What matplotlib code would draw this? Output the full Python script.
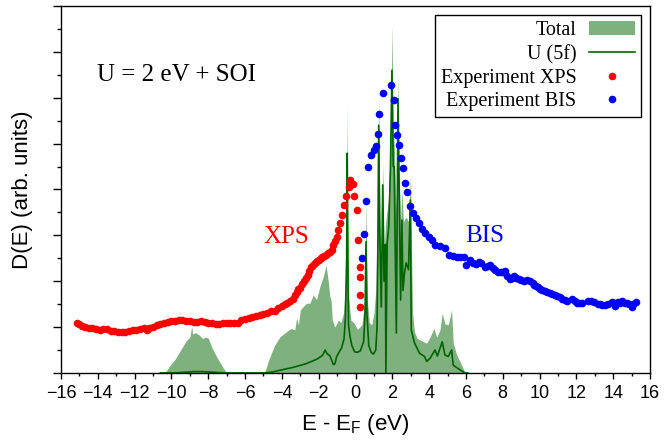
import matplotlib
matplotlib.use("Agg")
import matplotlib.pyplot as plt
from matplotlib.patches import Patch
from matplotlib.lines import Line2D
from matplotlib.ticker import MultipleLocator

# Total density of states (energy in eV, arb. units)
E_tot = [-10.6, -10.35, -10.1, -9.8, -9.5, -9.2, -9.0, -8.9, -8.85, -8.7, -8.5, -8.3, -8.15,
         -8.0, -7.8, -7.5, -7.2, -7.0, -4.95, -4.7, -4.4, -4.1, -3.75, -3.5, -3.3, -3.2, -3.1,
         -3.0, -2.84, -2.66, -2.48, -2.3, -2.12, -1.93, -1.75, -1.6, -1.48, -1.39, -1.33, -1.26,
         -1.12, -0.93, -0.8, -0.65, -0.55, -0.48, -0.45, -0.42, -0.36, -0.25, -0.1, 0.11, 0.35,
         0.5, 0.57, 0.64, 0.75, 0.88, 1.0, 1.1, 1.2, 1.26, 1.32, 1.4, 1.48, 1.55, 1.62, 1.7,
         1.8, 1.92, 1.98, 2.04, 2.12, 2.2, 2.27, 2.31, 2.36, 2.45, 2.52, 2.6, 2.75, 2.88, 2.95,
         2.99, 3.03, 3.1, 3.2, 3.35, 3.51, 3.7, 3.87, 4.05, 4.26, 4.41, 4.59, 4.71, 4.86, 5.04,
         5.22, 5.31, 5.49, 5.76, 5.95, 6.1]
D_tot = [0.0, 0.0, 0.15, 0.3, 0.5, 0.7, 0.78, 1.02, 0.85, 0.88, 0.83, 0.75, 0.78,
         0.76, 0.55, 0.32, 0.12, 0.0, 0.0, 0.3, 0.6, 0.79, 0.9, 0.97, 0.94, 1.2, 1.05,
         1.37, 1.45, 1.52, 1.52, 1.7, 1.6, 1.89, 2.1, 2.35, 2.0, 1.66, 1.6, 1.15,
         1.0, 1.15, 1.1, 1.3, 2.0, 3.6, 5.8, 3.6, 1.6, 1.15, 1.1, 0.95, 1.05,
         1.6, 3.7, 1.6, 1.1, 1.05, 1.3, 1.8, 3.5, 6.0, 3.5, 2.2, 4.6, 2.6, 3.2, 3.5,
         3.8, 5.5, 7.6, 5.5, 4.8, 3.5, 4.5, 6.6, 4.5, 3.3, 4.0, 3.3, 3.4, 3.3, 4.0,
         4.3, 3.0, 1.3, 0.9, 0.75, 0.72, 0.68, 0.65, 0.78, 0.97, 0.78, 0.94, 1.30, 1.07, 1.05,
         1.37, 0.65, 0.4, 0.18, 0.0, 0.0]

# U 5f partial density of states
E_5f = [-10.6, -10.0, -9.5, -8.8, -8.3, -7.5, -7.0, -5.0, -4.5, -4.1, -3.4, -2.7, -2.1,
        -1.8, -1.65, -1.55, -1.4, -1.3, -1.2, -1.12, -1.03, -0.9, -0.75, -0.62, -0.55, -0.48,
        -0.45, -0.42, -0.38, -0.3, -0.2, -0.05, 0.1, 0.26, 0.44, 0.52, 0.57, 0.62, 0.72, 0.85,
        0.97, 1.1, 1.17, 1.22, 1.26, 1.32, 1.4, 1.48, 1.55, 1.62, 1.65, 1.72, 1.81, 1.9, 1.98,
        2.05, 2.1, 2.22, 2.31, 2.45, 2.52, 2.58, 2.66, 2.75, 2.88, 2.98, 3.03, 3.21, 3.48, 3.75,
        3.87, 4.05, 4.32, 4.45, 4.71, 4.86, 5.04, 5.22, 5.31, 5.67, 5.95, 6.1]
D_5f = [0.0, 0.0, 0.01, 0.03, 0.03, 0.01, 0.0, 0.0, 0.02, 0.06, 0.12, 0.2, 0.3,
        0.38, 0.5, 0.42, 0.38, 0.28, 0.18, 0.2, 0.35, 0.45, 0.55, 0.75, 1.2, 2.5,
        4.79, 2.5, 1.05, 0.8, 0.6, 0.46, 0.45, 0.48, 0.68, 1.3, 2.86, 1.3, 0.6, 0.45,
        0.41, 0.5, 1.0, 3.0, 5.4, 3.0, 1.44, 4.1, 2.0, 2.8, 0.0, 2.83, 3.2, 4.5, 6.6,
        4.5, 4.5, 0.87, 5.98, 1.59, 3.33, 1.8, 2.18, 2.4, 2.25, 3.77, 0.94, 0.65, 0.43, 0.36,
        0.25, 0.32, 0.5, 0.37, 0.68, 0.39, 0.36, 0.5, 0.17, 0.07, 0.0, 0.0]

# XPS spectrum (occupied states)
E_xps = [-15.15, -15.0, -14.85, -14.7, -14.5, -14.3, -14.1, -13.9, -13.7, -13.5, -13.3,
         -13.1, -12.9, -12.7, -12.5, -12.3, -12.1, -11.9, -11.7, -11.5, -11.35, -11.2, -11.0,
         -10.8, -10.6, -10.4, -10.2, -10.0, -9.8, -9.6, -9.4, -9.2, -9.0, -8.8, -8.6, -8.4,
         -8.2, -8.0, -7.8, -7.6, -7.4, -7.2, -7.0, -6.8, -6.6, -6.4, -6.2, -6.0, -5.8, -5.6,
         -5.4, -5.2, -5.0, -4.8, -4.6, -4.4, -4.2, -4.0, -3.85, -3.7, -3.55, -3.4, -3.3, -3.2,
         -3.1, -3.0, -2.9, -2.8, -2.7, -2.6, -2.5, -2.4, -2.3, -2.2, -2.1, -2.0, -1.9, -1.8,
         -1.7, -1.6, -1.5, -1.4, -1.3, -1.2, -1.1, -1.02, -0.93, -0.83, -0.74, -0.65, -0.51,
         -0.38, -0.29, -0.15, -0.07, 0.07, 0.16, 0.22, 0.22, 0.27, 0.25]
D_xps = [1.10, 1.07, 1.02, 1.00, 0.99, 0.99, 0.96, 0.93, 0.95, 0.95, 0.92,
         0.91, 0.90, 0.90, 0.90, 0.91, 0.93, 0.93, 0.95, 0.97, 0.93, 0.98, 1.01,
         1.05, 1.07, 1.09, 1.11, 1.13, 1.14, 1.16, 1.16, 1.14, 1.13, 1.12, 1.11, 1.13,
         1.11, 1.10, 1.08, 1.07, 1.06, 1.08, 1.08, 1.09, 1.08, 1.10, 1.15, 1.18, 1.20, 1.22,
         1.25, 1.27, 1.28, 1.31, 1.35, 1.34, 1.42, 1.46, 1.50, 1.53, 1.56, 1.62, 1.70, 1.76,
         1.82, 1.86, 1.93, 2.00, 2.08, 2.14, 2.22, 2.30, 2.36, 2.40, 2.43, 2.46, 2.50, 2.52,
         2.55, 2.57, 2.62, 2.64, 2.68, 2.78, 2.88, 2.97, 3.12, 3.26, 3.45, 3.66, 3.86,
         4.06, 4.20, 4.13, 3.86, 3.55, 2.90, 2.32, 2.10, 1.71, 1.43]

# BIS spectrum (unoccupied states)
E_bis = [0.34, 0.47, 0.58, 0.70, 0.83, 0.98, 1.10, 1.21, 1.28, 1.52, 1.92, 2.11, 2.17,
         2.26, 2.35, 2.46, 2.57, 2.71, 2.79, 2.97, 3.11, 3.29, 3.47, 3.62, 3.80, 3.98, 4.14,
         4.34, 4.60, 4.88, 5.10, 5.30, 5.52, 5.70, 5.88, 6.01, 6.21, 6.40, 6.55, 6.70, 6.84,
         7.06, 7.20, 7.33, 7.47, 7.60, 7.75, 7.88, 8.00, 8.11, 8.23, 8.37, 8.48, 8.60, 8.74,
         8.88, 9.01, 9.14, 9.30, 9.50, 9.62, 9.69, 9.80, 9.92, 10.03, 10.14, 10.28, 10.41,
         10.55, 10.68, 10.82, 10.96, 11.10, 11.23, 11.37, 11.50, 11.74, 11.90, 12.04, 12.16,
         12.28, 12.64, 12.80, 12.95, 13.18, 13.29, 13.40, 13.55, 13.73, 13.95, 14.02, 14.09,
         14.18, 14.27, 14.38, 14.49, 14.62, 14.76, 14.88, 15.03, 15.10, 15.25]
D_bis = [2.50, 3.03, 3.75, 4.50, 4.75, 4.86, 4.95, 5.20, 5.64, 6.11, 6.27, 5.95, 5.40,
         5.19, 4.98, 4.69, 4.47, 4.15, 3.94, 3.64, 3.49, 3.37, 3.26, 3.14, 3.05, 2.96, 2.90,
         2.78, 2.76, 2.73, 2.58, 2.55, 2.53, 2.52, 2.53, 2.35, 2.46, 2.40, 2.38, 2.41, 2.40,
         2.31, 2.33, 2.36, 2.28, 2.24, 2.21, 2.20, 2.21, 2.22, 2.12, 2.04, 2.08, 2.11, 2.07,
         2.04, 2.02, 2.00, 2.02, 2.00, 1.96, 1.91, 1.89, 1.87, 1.84, 1.80, 1.78, 1.76,
         1.74, 1.73, 1.71, 1.68, 1.65, 1.62, 1.59, 1.57, 1.61, 1.56, 1.53, 1.52,
         1.53, 1.57, 1.56, 1.55, 1.51, 1.50, 1.49, 1.49, 1.50, 1.55, 1.52, 1.47,
         1.52, 1.55, 1.53, 1.56, 1.53, 1.52, 1.50, 1.44, 1.50, 1.55]

plt.rcParams["mathtext.fontset"] = "custom"
plt.rcParams["mathtext.rm"] = "Liberation Sans"
sans = "Liberation Sans"
serif = "Liberation Serif"

fig = plt.figure(figsize=(6.64, 4.44), dpi=100)
ax = fig.add_axes([0.0919, 0.16, 0.887, 0.8265])

ax.fill_between(E_tot, 0, D_tot, color="darkgreen", alpha=0.5, lw=0, zorder=1)
ax.plot(E_5f, D_5f, color="darkgreen", lw=1.2, zorder=2)
ax.plot(E_xps, D_xps, "o", color="red", ms=5.5, mec="none", zorder=3)
ax.plot(E_bis, D_bis, "o", color="blue", ms=5.5, mec="none", zorder=3)

ax.set_xlim(-16, 16)
ax.set_ylim(0, 8)
ax.xaxis.set_major_locator(MultipleLocator(2))
ax.xaxis.set_minor_locator(MultipleLocator(1))
ax.yaxis.set_major_locator(MultipleLocator(1))
ax.yaxis.set_minor_locator(MultipleLocator(0.5))
ax.tick_params(axis="x", which="major", direction="out", length=4, width=1, pad=5,
               labelsize=13)
ax.tick_params(axis="x", which="minor", direction="out", length=2.5, width=1)
ax.tick_params(axis="y", which="major", direction="out", length=5.5, width=1, labelleft=False)
ax.tick_params(axis="y", which="minor", direction="out", length=3, width=1)
for lab in ax.get_xticklabels():
    lab.set_fontfamily(sans)
for sp in ax.spines.values():
    sp.set_linewidth(1.0)

ax.set_xlabel(r"E - E$_{\mathrm{F}}$ (eV)", fontsize=16, family=sans, labelpad=7)
ax.set_ylabel("D(E) (arb. units)", fontsize=16, family=sans, labelpad=14)

ax.text(-14.04, 6.49, "U = 2 eV + SOI", fontsize=18, family=serif, va="center", ha="left")
ax.text(-3.77, 2.96, "XPS", fontsize=18, family=serif, color="red", ha="center", va="center")
ax.text(7.04, 2.98, "BIS", fontsize=18, family=serif, color="blue", ha="center", va="center")

handles = [
    Patch(facecolor="darkgreen", alpha=0.5, lw=0),
    Line2D([], [], color="darkgreen", lw=1.2),
    Line2D([], [], marker="o", ls="", color="red", ms=5.5, mec="none"),
    Line2D([], [], marker="o", ls="", color="blue", ms=5.5, mec="none"),
]
labels = ["Total", "U (5f)", "Experiment XPS", "Experiment BIS"]
leg = ax.legend(handles, labels, loc="upper right", markerfirst=False, numpoints=1,
                prop={"family": serif, "size": 14.5}, fancybox=False, framealpha=1,
                edgecolor="black", handlelength=2.3, handletextpad=0.6,
                labelspacing=0.22, borderpad=0.3, borderaxespad=0.45)
leg.get_frame().set_linewidth(1.0)

fig.savefig("out.png", dpi=100)
